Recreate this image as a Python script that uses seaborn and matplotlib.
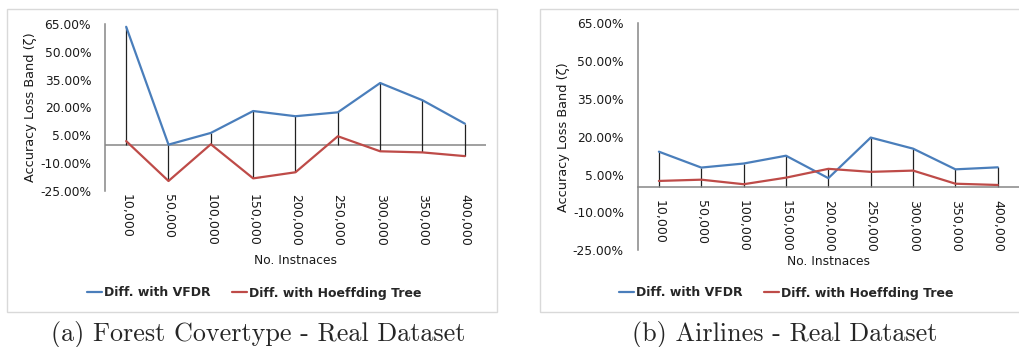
import numpy as np
import pandas as pd
import matplotlib
matplotlib.use("Agg")
import matplotlib.pyplot as plt
import seaborn as sns
from matplotlib.lines import Line2D
from matplotlib.patches import Rectangle

# Etiquetas del eje x (numero de instancias)
instancias = ["10,000", "50,000", "100,000", "150,000", "200,000",
              "250,000", "300,000", "350,000", "400,000"]

# (a) Forest Covertype - diferencias en %
forest_vfdr = [63.5, 0.0, 6.3, 18.1, 15.3, 17.4, 33.2, 23.9, 11.3]
forest_ht = [1.9, -19.6, 0.2, -18.2, -14.9, 4.5, -3.6, -4.2, -6.2]

# (b) Airlines - diferencias en %
airlines_vfdr = [14.1, 7.8, 9.4, 12.5, 3.6, 19.7, 15.3, 7.1, 7.9]
airlines_ht = [2.5, 3.0, 1.2, 3.8, 7.3, 6.1, 6.6, 1.4, 0.9]

y_ticks = [-25, -10, 5, 20, 35, 50, 65]
series = ["Diff. with VFDR", "Diff. with Hoeffding Tree"]
colores = ["#4A7EBB", "#BE4B48"]

sns.set_style("white")
plt.rcParams["font.family"] = ["DejaVu Sans"]

gris = "#868686"
texto = "#1a1a1a"

fig = plt.figure(figsize=(10.2, 3.47), dpi=100)
W, H = 1020, 347


def px_axes(x0, y_top, x1, y_bot):
    # posiciona un eje a partir de pixeles (origen arriba a la izquierda)
    return fig.add_axes([x0 / W, (H - y_bot) / H, (x1 - x0) / W, (y_bot - y_top) / H])


def dibujar(ax, vfdr, ht, etiquetas_en_cero):
    n = len(instancias)
    pos = np.arange(n)
    df = pd.DataFrame({
        "pos": np.concatenate([pos, pos]),
        "valor": vfdr + ht,
        "serie": [series[0]] * n + [series[1]] * n,
    })
    # lineas verticales (drop lines) entre las series y el cero
    lo = np.minimum(0, np.minimum(vfdr, ht))
    hi = np.maximum(0, np.maximum(vfdr, ht))
    ax.vlines(pos, lo, hi, color="#222222", lw=0.9, zorder=2)

    sns.lineplot(data=df, x="pos", y="valor", hue="serie", palette=colores,
                 sort=False, legend=False, lw=1.6, ax=ax, zorder=3)

    for s in ["top", "right"]:
        ax.spines[s].set_visible(False)
    ax.spines["left"].set_color(gris)
    ax.spines["left"].set_linewidth(1.1)

    # primero se ubica el eje x (mover el spine reinicia los ticks)
    if etiquetas_en_cero:
        ax.spines["bottom"].set_position(("data", 0))
        ax.spines["bottom"].set_color(gris)
        ax.spines["bottom"].set_linewidth(1.1)
    else:
        ax.spines["bottom"].set_visible(False)
        ax.axhline(0, color=gris, lw=1.1, zorder=1)

    ax.set_xlim(-0.5, n - 0.5)
    ax.set_ylim(-25, 65)
    ax.set_yticks(y_ticks)
    ax.set_yticklabels([f"{v:.2f}%" for v in y_ticks])
    ax.set_xticks(pos)
    ax.set_xticklabels(instancias, rotation=-90)

    ax.tick_params(axis="x", length=0, pad=9 if etiquetas_en_cero else 2,
                   labelsize=9, labelcolor=texto)
    ax.tick_params(axis="y", length=0, pad=10, labelsize=8.8, labelcolor=texto)
    ax.set_ylabel("Accuracy Loss Band (ζ)", fontsize=9.3, color=texto)
    ax.set_xlabel("No. Instnaces", fontsize=8.8, color=texto)
    ax.grid(False)


# Panel (a)
ax1 = px_axes(105, 24, 486, 191)
dibujar(ax1, forest_vfdr, forest_ht, False)
ax1.yaxis.set_label_coords(-0.178, 0.5)
ax1.xaxis.set_label_coords(0.5, -0.38)

# Panel (b)
ax2 = px_axes(637.7, 23.3, 1019, 250.3)
dibujar(ax2, airlines_vfdr, airlines_ht, True)
ax2.yaxis.set_label_coords(-0.177, 0.5)
ax2.xaxis.set_label_coords(0.5, -0.02)

# Marcos grises de cada grafico
for x0, x1 in [(7, 497), (540, 1030)]:
    fig.patches.append(Rectangle((x0 / W, (H - 312) / H), (x1 - x0) / W, 303 / H,
                                 transform=fig.transFigure, fill=False,
                                 edgecolor="#D9D9D9", lw=1.0))

# Leyendas debajo de cada grafico
handles = [Line2D([], [], color=c, lw=1.6) for c in colores]
for cx in [254, 786]:
    fig.legend(handles, series, loc="center", bbox_to_anchor=(cx / W, (H - 293) / H),
               ncol=2, frameon=False, handlelength=1.2, handletextpad=0.15,
               columnspacing=1.7, prop={"weight": "bold", "size": 9})

# Subtitulos en estilo LaTeX
fig.text(258 / W, (H - 335) / H, "(a) Forest Covertype - Real Dataset",
         family="cmr10", fontsize=18.8, ha="center", va="center")
fig.text(785 / W, (H - 335) / H, "(b) Airlines - Real Dataset",
         family="cmr10", fontsize=18.8, ha="center", va="center")

fig.savefig("out.png", dpi=100)
